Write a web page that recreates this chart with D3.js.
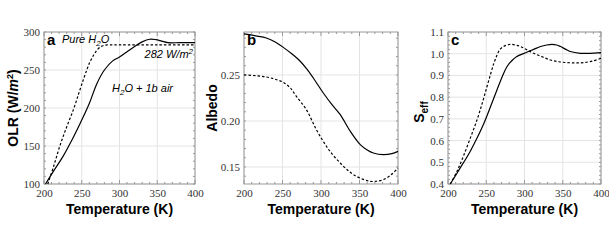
<!DOCTYPE html>
<html>
<head>
<style>
  body { margin: 0; background: #fff; }
  .tick text { font-family: "Liberation Serif", "DejaVu Serif", serif; font-size: 11px; fill: #333; }
  .title { font-family: "Liberation Sans", Arial, sans-serif; font-weight: bold; font-size: 14px; fill: #000; }
  .letter { font-family: "Liberation Sans", Arial, sans-serif; font-weight: bold; font-size: 15px; }
  .note { font-family: "Liberation Sans", Arial, sans-serif; font-style: italic; font-size: 11px; }
</style>
<script src="https://d3js.org/d3.v7.min.js"></script>
</head>
<body>
<svg width="609" height="250"></svg>
<script>
// panel a: OLR
var olrT_air = [202, 212, 225, 237, 248, 260, 270, 280, 291, 300, 310, 320, 330, 340, 348, 356, 364, 380, 400];
var olr_air  = [100, 116, 136, 158, 180, 206, 232, 250, 262, 267, 274, 281, 287, 290.5, 290, 288, 286, 286, 286];
var olrT_pure = [205, 213, 221, 230, 239, 246, 252, 257, 261, 266, 270, 275, 280, 287, 300, 350, 400];
var olr_pure  = [100, 124, 150, 175, 198, 219, 237, 251, 261, 270, 276, 280.5, 282.5, 283, 283, 283, 283];

// panel b: Albedo
var albT_air = [200, 215, 229, 240, 251, 262, 273, 282, 290, 303, 314, 325, 338, 351, 360, 368, 381, 392, 400];
var alb_air  = [0.2946, 0.2925, 0.2902, 0.2860, 0.2800, 0.2730, 0.2649, 0.2560, 0.2467, 0.2304, 0.2180, 0.2069, 0.1888, 0.1743, 0.1685, 0.1652, 0.1634, 0.1645, 0.1670];
var albT_pure = [200, 215, 229, 240, 251, 260, 268, 281, 294, 307, 316, 325, 334, 342, 354, 364, 372, 381, 391, 400];
var alb_pure  = [0.2500, 0.2492, 0.2478, 0.2455, 0.2420, 0.2360, 0.2268, 0.2123, 0.1906, 0.1725, 0.1625, 0.1543, 0.1470, 0.1417, 0.1368, 0.1344, 0.1345, 0.1362, 0.1415, 0.1489];

// panel c: S_eff
var seffT_air = [203, 216, 229, 238, 247, 256, 264, 271, 277, 284, 290, 303, 312, 321, 329, 336, 342, 347, 354, 360, 373, 385, 400];
var seff_air  = [0.400, 0.474, 0.550, 0.612, 0.680, 0.760, 0.833, 0.895, 0.940, 0.970, 0.987, 1.007, 1.020, 1.033, 1.040, 1.043, 1.040, 1.033, 1.020, 1.010, 1.002, 1.002, 1.005];
var seffT_pure = [203, 212, 220, 229, 238, 245, 251, 256, 260, 264, 268, 274, 281, 288, 295, 303, 312, 323, 334, 345, 356, 367, 377, 390, 400];
var seff_pure  = [0.400, 0.460, 0.527, 0.610, 0.696, 0.775, 0.849, 0.910, 0.956, 0.993, 1.020, 1.036, 1.043, 1.040, 1.033, 1.018, 1.002, 0.986, 0.971, 0.963, 0.959, 0.958, 0.959, 0.967, 0.979];

var xTicks = [200, 250, 300, 350, 400];
var olrTicks = [100, 150, 200, 250, 300];
var albTicks = [0.15, 0.20, 0.25];
var seffTicks = [0.4, 0.5, 0.6, 0.7, 0.8, 0.9, 1.0, 1.1];

var svg = d3.select("svg");
var top_ = 32, bottom = 184;

var panels = [
  { x0: 44, x1: 195, domain: [100, 300], ticks: olrTicks, fmt: d3.format("d"), minor: 10, letter: "a",
    series: [[olrT_air, olr_air, false], [olrT_pure, olr_pure, true]] },
  { x0: 244, x1: 398, domain: [0.1315, 0.2967], ticks: albTicks, fmt: d3.format(".2f"), minor: 0.01, letter: "b",
    series: [[albT_air, alb_air, false], [albT_pure, alb_pure, true]] },
  { x0: 448, x1: 601, domain: [0.4, 1.1], ticks: seffTicks, fmt: d3.format(".1f"), minor: 0.02, letter: "c",
    series: [[seffT_air, seff_air, false], [seffT_pure, seff_pure, true]] }
];

panels.forEach(function(p) {
  var x = d3.scaleLinear().domain([200, 400]).range([p.x0, p.x1]);
  var y = d3.scaleLinear().domain(p.domain).range([bottom, top_]);
  var g = svg.append("g");

  // grid
  g.selectAll(".vg").data(xTicks).enter().append("line")
    .attr("x1", x).attr("x2", x).attr("y1", top_).attr("y2", bottom)
    .attr("stroke", "#e4e4e4").attr("stroke-width", 1);
  g.selectAll(".hg").data(p.ticks).enter().append("line")
    .attr("y1", y).attr("y2", y).attr("x1", p.x0).attr("x2", p.x1)
    .attr("stroke", "#e4e4e4").attr("stroke-width", 1);

  // minor ticks on all sides
  var xm = d3.range(200, 401, 10);
  g.selectAll(".xmb").data(xm).enter().append("line")
    .attr("x1", x).attr("x2", x).attr("y1", bottom).attr("y2", function(d) { return bottom - (d % 50 ? 2 : 4); })
    .attr("stroke", "#999");
  g.selectAll(".xmt").data(xm).enter().append("line")
    .attr("x1", x).attr("x2", x).attr("y1", top_).attr("y2", function(d) { return top_ + (d % 50 ? 2 : 4); })
    .attr("stroke", "#999");
  var n0 = Math.ceil(p.domain[0] / p.minor - 1e-6), n1 = Math.floor(p.domain[1] / p.minor + 1e-6);
  var ym = d3.range(n0, n1 + 1).map(function(i) { return i * p.minor; });
  g.selectAll(".yml").data(ym).enter().append("line")
    .attr("y1", y).attr("y2", y).attr("x1", p.x0).attr("x2", p.x0 + 2).attr("stroke", "#999");
  g.selectAll(".ymr").data(ym).enter().append("line")
    .attr("y1", y).attr("y2", y).attr("x1", p.x1).attr("x2", p.x1 - 2).attr("stroke", "#999");

  // frame
  g.append("rect").attr("x", p.x0).attr("y", top_).attr("width", p.x1 - p.x0).attr("height", bottom - top_)
    .attr("fill", "none").attr("stroke", "#999").attr("stroke-width", 1);

  // axes
  var xa = g.append("g").attr("transform", "translate(0," + bottom + ")")
    .call(d3.axisBottom(x).tickValues(xTicks).tickSize(0).tickPadding(5))
    .attr("font-family", "Liberation Serif").attr("font-size", 11);
  xa.select(".domain").remove();
  var ya = g.append("g").attr("transform", "translate(" + p.x0 + ",0)")
    .call(d3.axisLeft(y).tickValues(p.ticks).tickFormat(p.fmt).tickSize(0).tickPadding(4))
    .attr("font-family", "Liberation Serif").attr("font-size", 11);
  ya.select(".domain").remove();

  // curves
  var line = d3.line().curve(d3.curveCatmullRom.alpha(0.5));
  p.series.forEach(function(s) {
    var pts = s[0].map(function(t, i) { return [x(t), y(s[1][i])]; });
    g.append("path").attr("d", line(pts)).attr("fill", "none")
      .attr("stroke", "#000").attr("stroke-width", 1.2)
      .attr("stroke-dasharray", s[2] ? "2.5,2" : null);
  });

  // panel letter
  g.append("text").attr("class", "letter").attr("x", p.x0 + 3).attr("y", top_ + 13).text(p.letter);

  // x title
  g.append("text").attr("class", "title").attr("text-anchor", "middle")
    .attr("x", (p.x0 + p.x1) / 2).attr("y", 214).text("Temperature (K)");
});

// y titles
var yt1 = svg.append("text").attr("class", "title").attr("text-anchor", "middle")
  .attr("transform", "translate(18,108) rotate(-90)");
yt1.append("tspan").text("OLR (W/");
yt1.append("tspan").attr("font-style", "italic").text("m");
yt1.append("tspan").attr("dy", -5).attr("font-size", "9px").text("2");
yt1.append("tspan").attr("dy", 5).text(")");

svg.append("text").attr("class", "title").attr("text-anchor", "middle")
  .attr("transform", "translate(217,108) rotate(-90)").text("Albedo");

var yt3 = svg.append("text").attr("class", "title").attr("text-anchor", "middle")
  .attr("transform", "translate(424,112) rotate(-90)");
yt3.append("tspan").text("S");
yt3.append("tspan").attr("dy", 4).attr("font-size", "10px").text("eff");

// annotations panel a
var n1 = svg.append("text").attr("class", "note").attr("x", 62).attr("y", 43);
n1.append("tspan").text("Pure H");
n1.append("tspan").attr("dy", 3).attr("font-size", "8px").text("2");
n1.append("tspan").attr("dy", -3).text("O");

var n2 = svg.append("text").attr("class", "note").attr("x", 193).attr("y", 58).attr("text-anchor", "end");
n2.append("tspan").text("282 W/m");
n2.append("tspan").attr("dy", -4).attr("font-size", "8px").text("2");

var n3 = svg.append("text").attr("class", "note").attr("x", 112).attr("y", 92);
n3.append("tspan").text("H");
n3.append("tspan").attr("dy", 3).attr("font-size", "8px").text("2");
n3.append("tspan").attr("dy", -3).text("O + 1b air");
</script>
</body>
</html>
